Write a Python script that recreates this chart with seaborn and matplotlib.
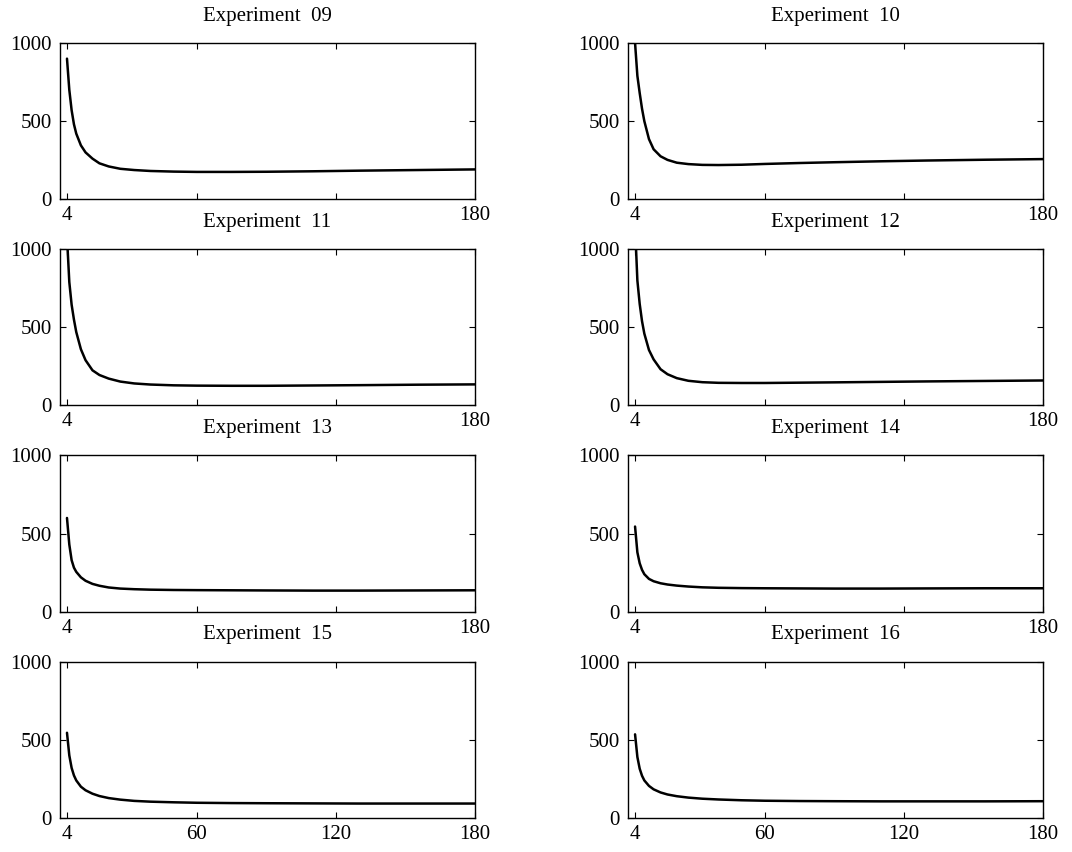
import numpy as np
import pandas as pd
import matplotlib
matplotlib.use("Agg")
import matplotlib.pyplot as plt
import seaborn as sns

# valores
x = [4, 5, 6, 7, 8, 10, 12, 15, 18, 22, 27, 33, 40, 50, 60, 75, 90, 110, 130, 155, 180]

exp09 = [900, 700, 570, 480, 420, 345, 300, 260, 230, 210, 195, 187, 181, 177, 175, 175, 176, 179, 183, 187, 191]
exp10 = [1000, 790, 680, 580, 500, 385, 320, 275, 252, 234, 225, 220, 219, 221, 226, 232, 237, 243, 248, 253, 257]
exp11 = [1080, 790, 645, 550, 470, 360, 290, 225, 195, 172, 153, 141, 134, 129, 127, 126, 126, 128, 130, 133, 135]
exp12 = [1150, 800, 650, 540, 460, 355, 295, 232, 200, 175, 158, 149, 145, 144, 144, 146, 148, 151, 154, 157, 160]
exp13 = [600, 430, 330, 282, 255, 220, 198, 178, 166, 155, 148, 144, 141, 139, 138, 137, 136, 135, 135, 136, 137]
exp14 = [545, 380, 310, 268, 240, 210, 195, 182, 174, 167, 161, 156, 153, 151, 150, 149, 148, 148, 149, 150, 150]
exp15 = [545, 400, 320, 272, 240, 200, 177, 155, 140, 127, 117, 109, 104, 100, 97, 95, 94, 93, 92, 92, 92]
exp16 = [535, 390, 315, 270, 240, 205, 183, 163, 150, 139, 130, 123, 118, 113, 110, 108, 107, 106, 106, 106, 107]

titles = ["Experiment  09", "Experiment  10", "Experiment  11", "Experiment  12",
          "Experiment  13", "Experiment  14", "Experiment  15", "Experiment  16"]
series = [exp09, exp10, exp11, exp12, exp13, exp14, exp15, exp16]

xticks = [4, 60, 120, 180]
yticks = [0, 500, 1000]

sns.set_style("ticks")
plt.rcParams['font.family'] = ['Liberation Serif', 'DejaVu Serif']
plt.rcParams['font.size'] = 15
plt.rcParams['text.color'] = 'black'
plt.rcParams['xtick.color'] = 'black'
plt.rcParams['ytick.color'] = 'black'
plt.rcParams['xtick.direction'] = 'in'
plt.rcParams['ytick.direction'] = 'in'
plt.rcParams['xtick.top'] = True
plt.rcParams['ytick.right'] = True
plt.rcParams['axes.linewidth'] = 1.0

fig, axes = plt.subplots(4, 2, figsize=(10.72, 8.52), dpi=100)
plt.subplots_adjust(left=0.056, right=0.973, top=0.9495, bottom=0.040,
                    hspace=0.32, wspace=0.369)

for i, ax in enumerate(axes.flat):
    df = pd.DataFrame({'x': x, 'y': series[i]})
    sns.lineplot(data=df, x='x', y='y', ax=ax, color='black', linewidth=1.8)
    ax.set_xlim(1, 180)
    ax.set_ylim(0, 1000)
    ax.set_xticks(xticks)
    if i >= 6:
        ax.set_xticklabels(['4', '60', '120', '180'])
    else:
        ax.set_xticklabels(['4', '', '', '180'])
    ax.set_yticks(yticks)
    ax.set_yticklabels(['0', '500', '1000'])
    ax.tick_params(axis='x', length=4, width=0.8, pad=5, labelsize=15, labelcolor='black')
    ax.tick_params(axis='y', length=4, width=0.8, pad=6, labelsize=15, labelcolor='black')
    ax.set_xlabel('')
    ax.set_ylabel('')
    ax.set_title(titles[i], fontsize=15, pad=16, color='black')
    for s in ax.spines.values():
        s.set_color('black')

fig.savefig('out.png', dpi=100)
